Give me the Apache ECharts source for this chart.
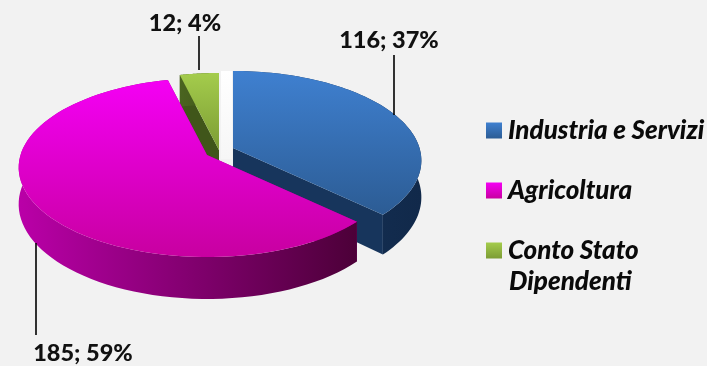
<!DOCTYPE html>
<html><head><meta charset="utf-8">
<style>html,body{margin:0;padding:0;background:#f2f2f2}#c{width:707px;height:366px}</style>
<script src="https://cdn.jsdelivr.net/npm/echarts@6/dist/echarts.min.js"></script>
</head><body><div id="c"></div>
<script>
const categories = ['Industria e Servizi', 'Agricoltura', 'Conto Stato Dipendenti'];
const values = [116, 185, 12];
const percents = [37, 59, 4];
const legendNote = 'Dipendenti';

const FONT = 'Lato';
const disc = {cx: 207, cy: 155, rx: 186.5, ry: 87.8, k: 0.14, depth: 36};
const explode = [[26, -7], [0, 0], [12, -5]];
const labelPos = [[389, 40], [83, 353], [185, 23]];
const leaders = [[[394, 55], [394, 115]], [[36, 243], [36, 335]], [[199, 36], [199, 70]]];
const grad = (x, y, x2, y2, a, b) => new echarts.graphic.LinearGradient(x, y, x2, y2, [{offset: 0, color: a}, {offset: 1, color: b}]);
const looks = [
  {top: ['#3f80d0', '#2c5c94'], wall: ['#17355c', '#16335a'], outer: ['#17365e', '#11294a']},
  {top: ['#f400f4', '#c800a0'], wall: ['#a00090', '#50003c'], outer: ['#ba00a8', '#4c0038']},
  {top: ['#a4cc4c', '#7c9c34'], wall: ['#40561a', '#40561a'], outer: ['#4a6420', '#40561a']}
];
const drawOrder = [2, 0, 1];

const total = values.reduce((a, b) => a + b, 0);
const starts = values.map((_, i) => values.slice(0, i).reduce((a, b) => a + b, 0));
const toAngle = v => echarts.number.linearMap(v, [0, total], [0, Math.PI * 2]);

function project(angle, radius, off, lower) {
  const u = Math.sin(angle) * radius, v = -Math.cos(angle) * radius;
  const w = 1 - disc.k * v;
  return [disc.cx + off[0] + disc.rx * u / w,
          disc.cy + off[1] + disc.ry * v / w + (lower ? disc.depth / w : 0)];
}
function sliceItem(idx, api) {
  const a0 = toAngle(starts[idx]), a1 = toAngle(starts[idx] + api.value(0));
  const off = explode[idx], look = looks[idx], steps = 80;
  const arc = lower => Array.from({length: steps + 1}, (_, i) => project(a0 + (a1 - a0) * i / steps, 1, off, lower));
  const apex = project(0, 0, off, false), apexL = project(0, 0, off, true);
  const topArc = arc(false), lowArc = arc(true);
  const poly = (points, color) => ({type: 'polygon', shape: {points}, style: {fill: color}});
  const children = [
    poly([apex, topArc[0], lowArc[0], apexL], look.wall[0]),
    poly([apex, topArc[steps], lowArc[steps], apexL], look.wall[0]),
    poly(topArc.concat(lowArc.slice().reverse()), grad(0, 0, 1, 0, look.outer[0], look.outer[1])),
    poly([apex].concat(topArc), grad(0, 0, 0, 1, look.top[0], look.top[1]))
  ];
  return {type: 'group', children};
}
const sliceSeries = drawOrder.map(i => ({
  type: 'custom', name: categories[i], coordinateSystem: 'none', silent: true, z: 2,
  itemStyle: {color: looks[i].top[0]},
  data: [[values[i]]],
  renderItem: (p, api) => sliceItem(i, api)
}));
const annotations = {
  type: 'custom', coordinateSystem: 'none', silent: true, z: 5, legendHoverLink: false,
  data: values.map((v, i) => [v, percents[i]]),
  renderItem: (p, api) => {
    const i = p.dataIndex;
    return {type: 'group', children: [
      {type: 'polyline', shape: {points: leaders[i]}, style: {stroke: '#000', lineWidth: 1.6, fill: null}},
      {type: 'text', x: labelPos[i][0], y: labelPos[i][1], style: {
        text: api.value(0) + '; ' + api.value(1) + '%', fill: '#111',
        font: '900 23.5px ' + FONT, align: 'center', verticalAlign: 'middle'}}
    ]};
  }
};
const chart = echarts.init(document.getElementById('c'), null, {renderer: 'canvas'});
chart.setOption({
  animation: false,
  backgroundColor: '#f2f2f2',
  legend: {
    orient: 'vertical', left: 486, top: 114, padding: 0, itemWidth: 16, itemHeight: 16, itemGap: 27,
    icon: 'rect', selectedMode: false,
    formatter: n => n.replace(' ' + legendNote, ''),
    textStyle: {fontFamily: FONT, fontWeight: 900, fontStyle: 'italic', fontSize: 26, color: '#0a0a0a', lineHeight: 33, padding: [0, 0, 0, 1]},
    data: categories.map((name, i) => ({name, itemStyle: {color: grad(0, 0, 0, 1, looks[i].top[0], looks[i].top[1])}}))
  },
  graphic: [
    {type: 'rect', z: 1, shape: {x: 221, y: 71, width: 11, height: 88},
     style: {fill: grad(0, 0, 0, 1, '#ffffff', '#f6f6f6')}},
    {type: 'text', left: 509, top: 269, style: {text: legendNote, font: 'italic 900 26px ' + FONT, fill: '#0a0a0a'}}
  ],
  series: sliceSeries.concat([annotations])
});
</script></body></html>
